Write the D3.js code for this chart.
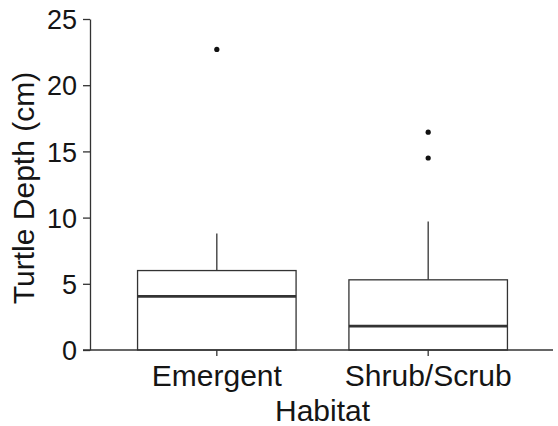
<!DOCTYPE html>
<html>
<head>
<meta charset="utf-8">
<script src="https://cdn.jsdelivr.net/npm/d3@7"></script>
<style>
  html, body { margin: 0; padding: 0; background: #fff; }
  svg text { font-family: "Liberation Sans", Arial, sans-serif; fill: #151515; }
</style>
</head>
<body>
<svg id="chart" width="558" height="426"></svg>
<script>
// Turtle depth by habitat: box summaries and outliers
const habitats = ["Emergent", "Shrub/Scrub"];
const q1Values = [0, 0];
const medianValues = [4.05, 1.8];
const q3Values = [6.0, 5.3];
const whiskerLow = [0, 0];
const whiskerHigh = [8.8, 9.7];
const outlierValues = [[22.7], [16.45, 14.5]];
const yTicks = [0, 5, 10, 15, 20, 25];

const svg = d3.select("#chart");
const plotLeft = 90, plotRight = 553, plotTop = 19, plotBottom = 350;
const ink = "#333";

const x = d3.scaleBand().domain(habitats).range([plotLeft, 555]).paddingInner(0.25).paddingOuter(0.225);
const y = d3.scaleLinear().domain([0, 25]).range([plotBottom, plotTop]);

// Axes
const yAxis = svg.append("g").attr("transform", `translate(${plotLeft},0)`)
  .call(d3.axisLeft(y).tickValues(yTicks).tickSize(7).tickPadding(6).tickSizeOuter(0));
yAxis.select(".domain").attr("stroke", ink).attr("stroke-width", 1.3);
yAxis.selectAll(".tick line").attr("stroke", ink).attr("stroke-width", 1.3);
yAxis.selectAll(".tick text").attr("font-size", 27).attr("dy", "0.36em");

const xAxis = svg.append("g").attr("transform", `translate(0,${plotBottom})`);
const xTicks = xAxis.selectAll("g.tick").data(habitats).join("g")
  .attr("transform", d => `translate(${x(d) + x.bandwidth() / 2},0)`);
xTicks.append("line").attr("y2", 6).attr("stroke", ink).attr("stroke-width", 1.3);
xTicks.append("text").attr("y", 36).attr("text-anchor", "middle").attr("font-size", 30).text(d => d);

// Boxes
const boxes = svg.append("g").selectAll("g").data(habitats).join("g");
boxes.each(function (d, i) {
  const g = d3.select(this);
  const x0 = x(d), w = x.bandwidth(), cx = x0 + w / 2;
  g.append("line").attr("x1", cx).attr("x2", cx)
    .attr("y1", y(q3Values[i])).attr("y2", y(whiskerHigh[i]))
    .attr("stroke", ink).attr("stroke-width", 1.3);
  g.append("line").attr("x1", cx).attr("x2", cx)
    .attr("y1", y(q1Values[i])).attr("y2", y(whiskerLow[i]))
    .attr("stroke", ink).attr("stroke-width", 1.3);
  g.append("rect").attr("x", x0).attr("width", w)
    .attr("y", y(q3Values[i])).attr("height", y(q1Values[i]) - y(q3Values[i]))
    .attr("fill", "#fff").attr("stroke", ink).attr("stroke-width", 1.3);
  g.append("line").attr("x1", x0).attr("x2", x0 + w)
    .attr("y1", y(medianValues[i])).attr("y2", y(medianValues[i]))
    .attr("stroke", ink).attr("stroke-width", 2.6);
  g.selectAll("circle").data(outlierValues[i]).join("circle")
    .attr("cx", cx).attr("cy", v => y(v)).attr("r", 2.6).attr("fill", "#111");
});
// baseline drawn over the box bottoms
svg.append("line").attr("x1", plotLeft - 7).attr("x2", plotRight).attr("y1", plotBottom).attr("y2", plotBottom)
  .attr("stroke", ink).attr("stroke-width", 1.3);

// Axis titles
svg.append("text").attr("x", (x(habitats[0]) + x(habitats[1]) + x.bandwidth()) / 2).attr("y", 421)
  .attr("text-anchor", "middle").attr("font-size", 30).text("Habitat");
svg.append("text").attr("transform", "translate(34,188) rotate(-90)")
  .attr("text-anchor", "middle").attr("font-size", 30).text("Turtle Depth (cm)");
</script>
</body>
</html>
